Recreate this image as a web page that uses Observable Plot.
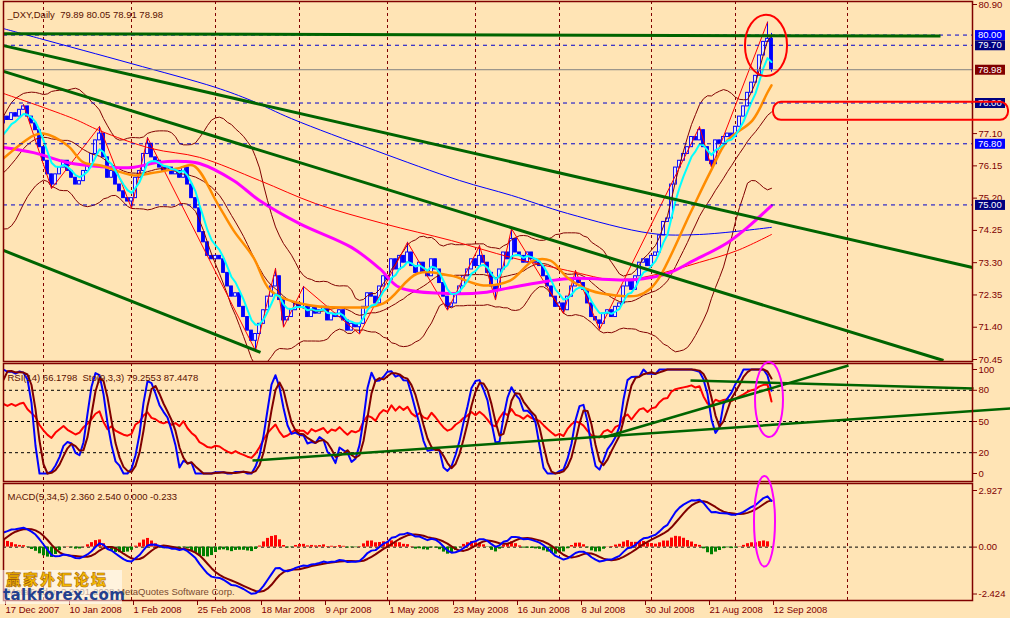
<!DOCTYPE html>
<html><head><meta charset="utf-8">
<script src="https://cdn.jsdelivr.net/npm/d3@7"></script>
<script src="https://cdn.jsdelivr.net/npm/@observablehq/plot@0.6"></script>
<style>
html,body{margin:0;padding:0;background:#FFE4B5;}
#c{position:relative;width:1010px;height:618px;overflow:hidden;background:#FFE4B5;font-family:"Liberation Sans",Arial,sans-serif;}
#c svg{position:absolute;left:0;overflow:visible;}
#logo{position:absolute;left:0;top:570px;width:122px;height:34px;background:rgba(255,255,255,0.55);white-space:nowrap;}
#logo .cn{position:absolute;left:6px;top:0px;font-family:"Noto Sans CJK SC";font-weight:900;font-size:15px;line-height:17px;letter-spacing:2px;color:#F5B800;-webkit-text-stroke:0.5px #a05a00;white-space:nowrap;}
#logo .en{position:absolute;left:3px;top:17px;font-family:"DejaVu Sans";font-weight:bold;font-size:15px;line-height:16px;color:#23408e;letter-spacing:0.4px;white-space:nowrap;}
</style></head>
<body><div id="c"></div>
<script>
// ---------------- data ----------------
const symbolTitle = "_DXY,Daily";
const titleOHLC = [79.89, 80.05, 78.91, 78.98];
const rsiTitle = "RSI(14) 66.1798  Sto(9,3,3) 79.2553 87.4478";
const macdTitle = "MACD(5,34,5) 2.360 2.540 0.000 -0.233";
const watermark = "MetaTrader, ? 2001-2008 MetaQuotes Software Corp.";

// closes before the window (only used to warm up the indicators, not drawn)
const preCloses = [77.8,77.6,77.5,77.3,77.2,77.0,76.8,76.7,76.6,76.3,76.0,75.9,75.6,75.4,75.6,75.8,75.7,75.9,75.6,75.4,
  75.5,75.3,74.9,74.8,74.6,74.8,75.2,75.6,75.8,76.0,75.9,76.1,76.3,76.2,76.6,76.4,76.0,76.5,77.0,77.4];

// daily closes, 17 Dec 2007 .. 12 Sep 2008
const closes = [
77.6,77.5,77.7,77.6,77.8,77.9,77.6,77.4,77.2,76.7,
76.3,75.9,75.6,75.9,76.1,76.3,76.0,75.8,75.6,75.7,
76.0,76.2,76.5,76.9,77.1,76.4,75.8,76.0,75.6,75.4,
75.2,75.1,75.2,75.8,76.0,76.5,76.8,76.4,76.3,76.1,
76.0,76.1,75.9,76.0,75.8,76.1,75.6,75.2,74.9,74.2,
73.9,73.5,73.4,73.5,73.4,73.0,72.6,72.3,72.4,72.0,
71.7,71.3,71.0,71.2,
71.5,71.9,72.3,72.6,72.9,72.2,71.6,71.7,71.9,72.1,
72.0,72.0,71.7,72.0,71.8,71.9,72.0,71.6,71.8,71.7,
71.9,71.6,71.3,71.5,71.4,71.5,72.0,72.4,72.3,72.1,
72.6,72.9,72.8,73.4,73.1,73.5,73.3,73.6,73.2,73.0,
73.3,73.0,72.9,73.4,73.1,72.7,72.3,72.0,72.1,72.4,
72.6,72.9,73.1,73.4,73.2,73.5,73.3,73.0,72.6,72.5,
73.1,73.6,73.4,74.0,73.6,73.5,73.3,73.6,73.4,73.3,
73.2,72.9,72.6,72.3,72.0,72.1,71.9,72.3,72.6,72.8,
72.7,72.5,72.1,71.7,71.6,71.5,71.8,71.9,71.7,72.0,
72.1,72.6,72.8,72.5,72.9,73.3,73.4,73.2,73.5,73.6,
74.1,74.5,74.6,75.6,76.1,76.3,76.5,76.7,77.0,76.9,
77.2,76.7,76.3,76.2,76.9,76.8,77.0,77.1,77.0,77.3,
77.6,77.9,78.3,78.6,78.8,79.4,79.8,79.89,78.98];

// wick extremes that reach beyond the bodies: [bar, price]
const highSpikes = [[5,77.95],[24,77.31],[36,76.98],[68,73.13],[75,72.6],[101,73.9],[119,73.8],[127,74.3],[143,73.07],[174,77.3],[191,80.38],[192,80.05]];
const lowSpikes = [[12,75.48],[32,74.9],[63,70.71],[70,71.4],[89,71.2],[111,71.9],[123,72.2],[140,71.8],[149,71.33],[177,76.1],[192,78.91]];

// zigzag pivots [bar, price]
const zigzag = [[5,77.95],[12,75.48],[24,77.31],[32,74.9],[36,76.98],[63,70.71],[68,73.13],[70,71.4],[75,72.6],[89,71.2],[101,73.9],[111,71.9],[119,73.8],[123,72.2],[127,74.3],[140,71.8],[143,73.07],[149,71.33],[174,77.3],[177,76.1],[191,80.38]];

// moving averages [bar, price]
const blueMA = [[0,80.19],[9,79.90],[32,79.16],[53,78.46],[62,78.07],[72,77.54],[93,76.60],[114,75.72],[127,75.28],[141,74.75],[162,74.16],[174,74.13],[192,74.34]];
const magentaMA = [[0,76.69],[7.5,76.54],[16,76.25],[24,76.13],[32,76.10],[38.5,76.25],[45,76.28],[49,76.22],[57.5,75.72],[64,75.13],[74,74.45],[87,73.75],[94,73.13],[99,72.57],[112,72.39],[120,72.42],[127,72.57],[141,72.83],[157.5,72.80],[166,72.98],[172.5,73.36],[181,73.89],[186,74.34],[192,74.98]];
const redMA = [[0,78.28],[17.5,77.54],[24,77.19],[37,76.66],[49,76.40],[64,75.72],[78,75.04],[95,74.45],[112,73.95],[127,73.45],[141,73.07],[153.5,72.78],[162,72.92],[174,73.31],[183.5,73.66],[192,74.13]];
const orangeMA = [[0,76.37],[7.5,77.04],[10,77.10],[16,76.75],[20,76.25],[24.25,76.16],[32.5,75.87],[36.75,75.93],[43.5,76.07],[47.5,76.16],[53.5,75.04],[57.5,74.25],[62.5,73.45],[66.75,72.48],[74.25,72.10],[86.75,71.98],[95,72.10],[103.5,72.98],[111.75,72.92],[120,72.63],[126.75,72.78],[132.5,73.36],[136.75,73.36],[141,72.86],[146.75,72.48],[153.5,72.33],[158.5,72.33],[161.75,72.54],[164.25,72.92],[171.75,74.77],[176.75,75.98],[181,76.90],[187.25,77.49],[191,78.31],[192,78.52]];

// trend lines [bar1, price1, bar2, price2]
const priceTrendLines = [[0,80.04,234.25,79.97],[0,79.69,242.25,73.16],[0,78.93,235,70.42],[0,73.66,64.25,70.66]];
const rsiTrendLines = [[62.25,12.5,251.75,62.5],[150,34.6,211.25,103.8],[171.75,89.4,242.5,81.7]];

// horizontal levels
const levelPrices = [80.00, 79.70, 78.00, 76.80, 75.00];
const priceTicks = [80.90, 77.10, 76.15, 75.20, 74.25, 73.30, 72.35, 71.40, 70.45];
const rsiTicks = [100, 80, 50, 20, 0];
const rsiLevels = [80, 50, 20];
const macdTicks = [2.927, 0, -2.424];

// time axis
const tickBars = [0,16,32,48,64,80,96,112,128,144,160,176,192];
const tickLabels = ["17 Dec 2007","10 Jan 2008","1 Feb 2008","25 Feb 2008","18 Mar 2008","9 Apr 2008","1 May 2008","23 May 2008","16 Jun 2008","8 Jul 2008","30 Jul 2008","21 Aug 2008","12 Sep 2008"];
const monthStartBars = [10,32,53,74,96,118,139,162,183,211];

// ---------------- derived ----------------
const P = preCloses.length;
const hiMap = new Map(highSpikes), loMap = new Map(lowSpikes);
const candles = closes.map((c,i)=>{
  const o = i===0 ? preCloses[P-1] : closes[i-1];
  const h = Math.max(o,c, hiMap.get(i) ?? -Infinity);
  const l = Math.min(o,c, loMap.get(i) ?? Infinity);
  return {i,o,c,h,l,bull:c>=o};
});
const allC = preCloses.concat(closes);
const allH = preCloses.concat(candles.map(d=>d.h));
const allL = preCloses.concat(candles.map(d=>d.l));
function emaArr(a,n){const k=2/(n+1);const o=[];a.forEach((v,i)=>o.push(i? v*k+o[i-1]*(1-k):v));return o;}
function smaArr(a,n){return a.map((v,i)=>i<n-1||a.slice(i-n+1,i+1).some(isNaN)?NaN:d3.mean(a.slice(i-n+1,i+1)));}
function sdArr(a,n){return a.map((v,i)=>i<n-1?NaN:d3.deviation(a.slice(i-n+1,i+1))*Math.sqrt((n-1)/n));}
const ema5 = emaArr(allC,5);
const bbMid = smaArr(allC,20), bbSd = sdArr(allC,20);
// RSI(14)
const rsi = new Array(allC.length).fill(NaN);
{let g=0,l=0;for(let i=1;i<=14;i++){const d=allC[i]-allC[i-1]; if(d>0)g+=d; else l-=d;} g/=14;l/=14; rsi[14]=100-100/(1+g/l);
 for(let i=15;i<allC.length;i++){const d=allC[i]-allC[i-1]; g=(g*13+Math.max(d,0))/14; l=(l*13+Math.max(-d,0))/14; rsi[i]= l===0?100:100-100/(1+g/l);}}
// Stochastic(9,3,3)
const num=[],den=[];
for(let i=0;i<allC.length;i++){ if(i<8){num.push(NaN);den.push(NaN);continue;}
  const hh=d3.max(allH.slice(i-8,i+1)), ll=d3.min(allL.slice(i-8,i+1)); num.push(allC[i]-ll); den.push(hh-ll);}
const stK = allC.map((v,i)=> i<10?NaN: 100*d3.sum(num.slice(i-2,i+1))/d3.sum(den.slice(i-2,i+1)));
const stD = smaArr(stK,3);
// MACD(5,34,5)
const e5 = emaArr(allC,5), e34 = emaArr(allC,34);
const macd = e5.map((v,i)=>v-e34[i]);
const sig = smaArr(macd,5);
const hist = macd.map((v,i)=>v-sig[i]);

const vis = (arr)=> closes.map((_,i)=>({i, v: arr[i+P]}));
const cyanRows = vis(ema5);
const bbUp = closes.map((_,i)=>({i, v: bbMid[i+P]+2*bbSd[i+P]}));
const bbLo = closes.map((_,i)=>({i, v: bbMid[i+P]-2*bbSd[i+P]}));
const bbMd = vis(bbMid);
const rsiRows = vis(rsi), kRows = vis(stK), dRows = vis(stD);
const macdRows = vis(macd), sigRows = vis(sig), histRows = vis(hist);
const lastClose = closes[closes.length-1];

// ---------------- style ----------------
const MAROON = "#800000", GREEN = "#006400";
const W = 1010;
const xScale = {type:"linear", domain:[0,240], range:[3,963], axis:null};
const baseStyle = {background:"transparent", overflow:"visible", fontFamily:"Liberation Sans, Arial, sans-serif", fontSize:"9px"};
const common = {width:W, marginLeft:3, marginRight:38, style:baseStyle};
const pr = (a)=>a.map(d=>({i:d[0], v:d[1]}));
const levelBg = ["#0000FF","#000080","#000080","#0000FF","#000080"];
const levelRows = levelPrices.map((v,k)=>({v, bg: levelBg[k]})).concat([{v:lastClose,bg:MAROON}]);
const c = document.getElementById("c");

// ---------------- main price pane ----------------
const main = Plot.plot({...common, height:362, marginTop:1, marginBottom:1,
  x: xScale, y:{domain:[70.45,80.90], range:[359,4], axis:null},
  marks:[
    Plot.ruleX(monthStartBars, {x:d=>d, stroke:MAROON, strokeDasharray:"3,3", strokeWidth:1}),
    Plot.ruleX(candles, {x:"i", y1:"l", y2:"h", stroke:"#0000FF", strokeWidth:1, clip:true}),
    Plot.rect(candles, {x1:d=>d.i-0.35, x2:d=>d.i+0.35, y1:"o", y2:"c", fill:d=>d.bull?"#FFFFFF":"#0000FF", stroke:"#0000FF", strokeWidth:1, clip:true}),
    Plot.line(bbUp, {x:"i", y:"v", stroke:MAROON, strokeWidth:1, clip:true}),
    Plot.line(bbMd, {x:"i", y:"v", stroke:MAROON, strokeWidth:1, clip:true}),
    Plot.line(bbLo, {x:"i", y:"v", stroke:MAROON, strokeWidth:1, clip:true}),
    Plot.line(pr(blueMA), {x:"i", y:"v", stroke:"#0000FF", strokeWidth:1, curve:"catmull-rom", clip:true}),
    Plot.line(pr(redMA), {x:"i", y:"v", stroke:"#FF0000", strokeWidth:1, curve:"catmull-rom", clip:true}),
    Plot.line(pr(zigzag), {x:"i", y:"v", stroke:"#FF0000", strokeWidth:1, clip:true}),
    Plot.line(pr(magentaMA), {x:"i", y:"v", stroke:"#FF00FF", strokeWidth:3, curve:"catmull-rom", clip:true}),
    Plot.line(pr(orangeMA), {x:"i", y:"v", stroke:"#FF8C00", strokeWidth:2.5, curve:"catmull-rom", clip:true}),
    Plot.line(cyanRows, {x:"i", y:"v", stroke:"#00FFFF", strokeWidth:2, clip:true}),
    Plot.ruleY(levelPrices, {y:d=>d, stroke:"#0000CC", strokeDasharray:"4,4", strokeWidth:1}),
    Plot.ruleY([lastClose], {y:d=>d, stroke:"#808080", strokeWidth:1}),
    Plot.link(priceTrendLines, {x1:d=>d[0], y1:d=>d[1], x2:d=>d[2], y2:d=>d[3], stroke:GREEN, strokeWidth:3}),
    Plot.frame({stroke:MAROON, strokeWidth:1.5}),
    Plot.axisY(priceTicks, {anchor:"right", tickSize:4, tickPadding:2, tickFormat:d=>d.toFixed(2), color:MAROON, fontSize:9.5, label:null}),
    Plot.ruleY(levelRows, {y:"v", x1:243, x2:250.5, stroke:d=>d.bg, strokeWidth:10}),
    Plot.text(levelRows, {y:"v", x:243.6, text:d=>d.v.toFixed(2), fill:"#FFFFFF", textAnchor:"start", fontSize:9.5}),
    Plot.rect([0], {x1:185.5, x2:196, y1:78.78, y2:80.58, rx:21, ry:30, fill:"none", stroke:"#FF0000", strokeWidth:2}),
    Plot.rect([0], {x1:192.5, x2:251.25, y1:77.49, y2:78.02, rx:8, fill:"none", stroke:"#FF0000", strokeWidth:2}),
    Plot.text([symbolTitle + "  " + titleOHLC.map(d=>d.toFixed(2)).join(" ")], {text:d=>d, frameAnchor:"top-left", dx:4, dy:10, textAnchor:"start", fill:"#5a1000", fontSize:9.5})
  ]});
main.style.top = "0px";
c.appendChild(main);

// ---------------- RSI / Stochastic pane ----------------
const rsiPlot = Plot.plot({...common, height:120, marginTop:1, marginBottom:1,
  x: xScale, y:{domain:[0,100], range:[111,7], axis:null},
  marks:[
    Plot.ruleX(monthStartBars, {x:d=>d, stroke:MAROON, strokeDasharray:"3,3"}),
    Plot.ruleY(rsiLevels, {y:d=>d, stroke:"#000000", strokeDasharray:"3,3"}),
    Plot.line(rsiRows, {x:"i", y:"v", stroke:"#FF0000", strokeWidth:2, clip:true}),
    Plot.line(kRows, {x:"i", y:"v", stroke:"#0000FF", strokeWidth:2, clip:true}),
    Plot.line(dRows, {x:"i", y:"v", stroke:MAROON, strokeWidth:2, clip:true}),
    Plot.link(rsiTrendLines, {x1:d=>d[0], y1:d=>d[1], x2:d=>d[2], y2:d=>d[3], stroke:GREEN, strokeWidth:2.5}),
    Plot.frame({stroke:MAROON, strokeWidth:1.5}),
    Plot.axisY(rsiTicks, {anchor:"right", tickSize:4, tickPadding:2, tickFormat:d=>String(d), color:MAROON, fontSize:9.5, label:null}),
    Plot.rect([0], {x1:188, x2:195, y1:34.6, y2:106.7, rx:14, ry:37.5, fill:"none", stroke:"#FF00FF", strokeWidth:2}),
    Plot.text([rsiTitle], {text:d=>d, frameAnchor:"top-left", dx:4, dy:10.5, textAnchor:"start", fill:"#5a1000", fontSize:9.5})
  ]});
rsiPlot.style.top = "362px";
c.appendChild(rsiPlot);

// ---------------- MACD pane ----------------
const macdPlot = Plot.plot({...common, height:136, marginTop:1, marginBottom:18,
  x: xScale, y:{domain:[-2.424,2.927], range:[111.5,8], axis:null},
  marks:[
    Plot.ruleX(monthStartBars, {x:d=>d, stroke:MAROON, strokeDasharray:"3,3"}),
    Plot.ruleY([0], {y:d=>d, stroke:"#000000", strokeDasharray:"3,3"}),
    Plot.ruleX(histRows, {x:"i", y1:0, y2:"v", stroke:d=>d.v>=0?"#FF0000":"#008000", strokeWidth:3, clip:true}),
    Plot.line(sigRows, {x:"i", y:"v", stroke:MAROON, strokeWidth:2, clip:true}),
    Plot.line(macdRows, {x:"i", y:"v", stroke:"#0000FF", strokeWidth:2, clip:true}),
    Plot.frame({stroke:MAROON, strokeWidth:1.5}),
    Plot.axisY(macdTicks, {anchor:"right", tickSize:4, tickPadding:2, tickFormat:d=>d===0?"0.00":d.toFixed(3), color:MAROON, fontSize:9.5, label:null}),
    Plot.axisX(tickBars, {anchor:"bottom", tickSize:5, tickPadding:1, tickFormat:d=>tickLabels[tickBars.indexOf(d)], textAnchor:"start", dx:2, color:MAROON, fontSize:9.5, label:null}),
    Plot.rect([0], {x1:187.75, x2:193, y1:-1.03, y2:3.65, rx:10.5, ry:45, fill:"none", stroke:"#FF00FF", strokeWidth:2}),
    Plot.text([macdTitle], {text:d=>d, frameAnchor:"top-left", dx:4, dy:9.5, textAnchor:"start", fill:"#5a1000", fontSize:9.5}),
    Plot.text([watermark], {text:d=>d, frameAnchor:"bottom-left", dx:4, dy:-6, textAnchor:"start", fill:"#7a4a30", fontSize:9.5})
  ]});
macdPlot.style.top = "482px";
c.appendChild(macdPlot);

// logo overlay
const logo = document.createElement("div");
logo.id = "logo";
logo.innerHTML = '<div class="cn">赢家外汇论坛</div><div class="en">talkforex.com</div>';
c.appendChild(logo);
</script>
</body></html>
